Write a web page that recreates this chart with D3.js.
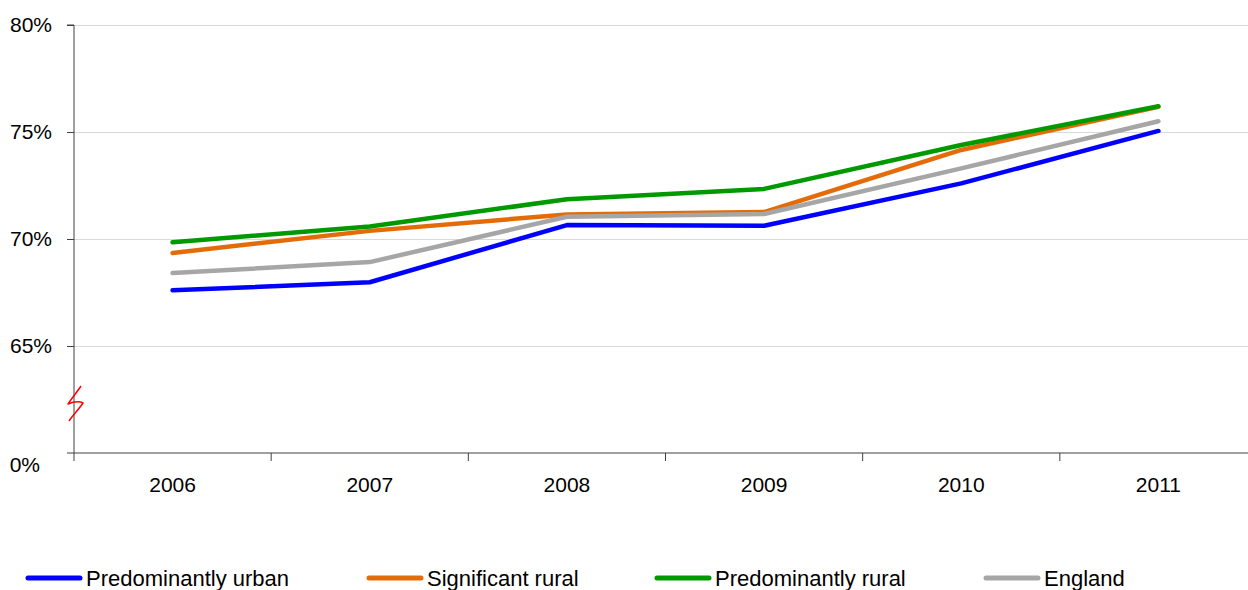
<!DOCTYPE html>
<html><head><meta charset="utf-8">
<script src="https://cdn.jsdelivr.net/npm/d3@7"></script>
<style>body{margin:0;background:#fff}svg{display:block;font-family:"Liberation Sans",Arial,sans-serif}</style>
</head><body><svg id="c" width="1248" height="590"></svg>
<script>
const years = ["2006","2007","2008","2009","2010","2011"];
const seriesNames = ["Predominantly urban","Significant rural","Predominantly rural","England"];
const urban = [67.6, 67.98, 70.65, 70.62, 72.6, 75.05];
const sigRural = [69.35, 70.38, 71.15, 71.26, 74.16, 76.18];
const predRural = [69.85, 70.58, 71.86, 72.34, 74.39, 76.2];
const england = [68.41, 68.92, 71.04, 71.17, 73.3, 75.5];
const yTicks = [65, 70, 75, 80];
const yTickLabels = ["65%","70%","75%","80%"];
const baseLabel = "0%";
const colors = ["#0000FF","#E36C09","#009900","#A6A6A6"];
const seriesValues = [urban, sigRural, predRural, england];

const svg = d3.select("#c");
const x = d3.scaleBand().domain(years).range([74, 1257]).padding(0);
const y = d3.scaleLinear().domain([60, 80]).range([453, 25]);

// gridlines
svg.append("g").selectAll("line").data(yTicks).join("line")
  .attr("x1", 74).attr("x2", 1248)
  .attr("y1", d => y(d)).attr("y2", d => y(d))
  .attr("stroke", "#D9D9D9").attr("stroke-width", 1).attr("shape-rendering","crispEdges");

// y axis
const yAxis = d3.axisLeft(y).tickValues(yTicks).tickSize(7).tickFormat((d,i) => yTickLabels[i]).tickPadding(15);
const gy = svg.append("g").attr("transform","translate(74,0)").call(yAxis);
gy.select(".domain").attr("d", `M-7,${y(80)}H0V${y(60)}`).attr("stroke","#404040");
gy.selectAll(".tick line").attr("stroke","#404040");
gy.selectAll("text").attr("font-size", 21).attr("fill","#000");

// x axis
const xAxis = d3.axisBottom(x).tickSize(0).tickPadding(0);
const gx = svg.append("g").attr("transform",`translate(0,${y(60)})`).call(xAxis);
gx.select(".domain").attr("d", "M67,0H1248").attr("stroke","#404040");
gx.selectAll(".tick text").attr("font-size", 21).attr("fill","#000").attr("y", 39).attr("dy", 0);
gx.selectAll(".tick line").remove();
svg.append("g").selectAll("line").data(years).join("line")
  .attr("x1", d => x(d)).attr("x2", d => x(d))
  .attr("y1", y(60)).attr("y2", y(60)+8)
  .attr("stroke","#404040");

// base label
svg.append("text").attr("x", 40).attr("y", y(60)+19).attr("text-anchor","end")
  .attr("font-size", 21).text(baseLabel);

// axis break symbol
svg.append("path").attr("d","M81,386C77,392 72,398 68,404C73,402 79,401 83,403C79,409 73,415 69,421")
  .attr("fill","none").attr("stroke","#FF0000").attr("stroke-width",1.5).attr("stroke-linejoin","round");

// lines
const line = d3.line().x((d,i) => x(years[i]) + x.bandwidth()/2).y(d => y(d));
svg.append("g").selectAll("path").data(seriesValues).join("path")
  .attr("d", d => line(d)).attr("fill","none")
  .attr("stroke", (d,i) => colors[i]).attr("stroke-width", 4.5)
  .attr("stroke-linecap","round").attr("stroke-linejoin","round");

// legend
const legX = [28, 369, 657, 986];
const lg = svg.append("g").selectAll("g").data(seriesNames).join("g")
  .attr("transform", (d,i) => `translate(${legX[i]},578)`);
lg.append("line").attr("x1",0).attr("x2",52).attr("y1",0).attr("y2",0)
  .attr("stroke",(d,i)=>colors[i]).attr("stroke-width",5).attr("stroke-linecap","round");
lg.append("text").attr("x",58).attr("y",0).attr("dy","0.35em").attr("font-size",22).text(d=>d);
</script></body></html>
